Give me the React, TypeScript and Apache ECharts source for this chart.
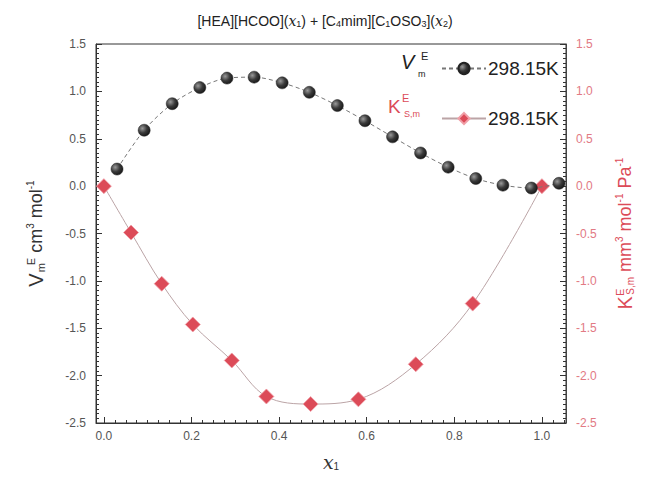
import React, { useEffect, useRef } from 'react';
import * as echarts from 'echarts';

// V_m^E data (cm3 mol-1) at 298.15 K
const vX = [0.030, 0.092, 0.156, 0.219, 0.281, 0.343, 0.407, 0.469, 0.533, 0.596, 0.659, 0.723, 0.786, 0.849, 0.911, 0.976, 1.039];
const vY = [0.18, 0.59, 0.87, 1.04, 1.14, 1.15, 1.09, 0.99, 0.85, 0.69, 0.52, 0.35, 0.20, 0.08, 0.01, -0.02, 0.03];
// K^E_S,m data (mm3 mol-1 Pa-1) at 298.15 K
const kX = [0.0, 0.062, 0.132, 0.203, 0.292, 0.371, 0.472, 0.581, 0.712, 0.842, 1.0];
const kY = [0.0, -0.49, -1.03, -1.46, -1.84, -2.22, -2.30, -2.25, -1.88, -1.24, 0.0];
const xTickLabels = [0, 0.2, 0.4, 0.6, 0.8, 1.0];
const xMinorTickValues = [0.025, 0.05, 0.075, 0.1, 0.125, 0.15, 0.175, 0.225, 0.25, 0.275, 0.3, 0.325, 0.35, 0.375, 0.425, 0.45, 0.475, 0.5, 0.525, 0.55, 0.575, 0.625, 0.65, 0.675, 0.7, 0.725, 0.75, 0.775, 0.825, 0.85, 0.875, 0.9, 0.925, 0.95, 0.975, 1.025, 1.05];
const legendLabel = '298.15K';

const X_MIN = -0.018;
const X_MAX = 1.055;

const FONT = '"Liberation Sans", Arial, sans-serif';
const RED = '#dc4b58';
const RED_LIGHT = '#e27a84';

export default function App() {
  const ref = useRef<HTMLDivElement>(null);
  useEffect(() => {
    if (!ref.current) return;
    const chart = echarts.init(ref.current, undefined, { renderer: 'svg' });
    const ball = new echarts.graphic.RadialGradient(0.35, 0.35, 0.75, [
      { offset: 0, color: '#9a9a9a' },
      { offset: 0.5, color: '#3a3a3a' },
      { offset: 1, color: '#111' },
    ]);
    const tickStyle = { color: '#333', width: 1 };
    const option: any = {
      animation: false,
      backgroundColor: '#fff',
      textStyle: { fontFamily: FONT },
      title: {
        text: '[HEA][HCOO]({i|x}{s|1}) + [C{s|4}mim][C{s|1}OSO{s|3}]({i|x}{s|2})',
        left: 'center',
        top: 8,
        textStyle: {
          fontFamily: FONT,
          fontSize: 14,
          fontWeight: 'normal',
          color: '#222',
          rich: {
            i: { fontFamily: '"DejaVu Serif", serif', fontStyle: 'italic', fontSize: 14, color: '#222' },
            s: { fontSize: 9, verticalAlign: 'bottom', color: '#222', padding: [6, 0, 0, 0] },
          },
        },
      },
      grid: { left: 96, right: 84, top: 44, bottom: 54, show: true, borderColor: '#333', borderWidth: 1 },
      legend: {
        orient: 'vertical',
        left: 436,
        top: 54,
        itemWidth: 44,
        itemHeight: 14,
        itemGap: 31,
        data: [{ name: 'V' }, { name: 'K' }],
        formatter: () => legendLabel,
        textStyle: { fontFamily: FONT, fontSize: 19, color: '#222', padding: [0, 0, 0, -3] },
      },
      xAxis: [
        {
          type: 'value',
          min: X_MIN,
          max: X_MAX,
          name: '{i|x}{s|1}',
          nameLocation: 'middle',
          nameGap: 29,
          nameTextStyle: {
            rich: {
              i: { fontFamily: '"DejaVu Serif", serif', fontStyle: 'italic', fontSize: 19, color: '#333' },
              s: { fontSize: 10, verticalAlign: 'bottom', padding: [8, 0, 0, 0], color: '#333' },
            },
          },
          axisLine: { show: true, onZero: false, lineStyle: { color: '#333', width: 1 } },
          axisTick: { show: true, inside: true, length: 6, customValues: xTickLabels, lineStyle: tickStyle },
          axisLabel: { show: true, customValues: xTickLabels, fontSize: 12, color: '#555', margin: 7, formatter: (v: number) => v.toFixed(1) },
          splitLine: { show: false },
        },
        {
          type: 'value',
          min: X_MIN,
          max: X_MAX,
          position: 'bottom',
          axisLine: { show: false, onZero: false },
          axisTick: { show: true, inside: true, length: 3, customValues: xMinorTickValues, lineStyle: tickStyle },
          axisLabel: { show: false },
          splitLine: { show: false },
        },
      ],
      yAxis: [
        {
          type: 'value',
          min: -2.5,
          max: 1.5,
          interval: 0.5,
          position: 'left',
          name: '{v|V}{m|m}{e|E}{t| cm}{p|3}{t| mol}{p|-1}',
          nameLocation: 'middle',
          nameGap: 50,
          nameRotate: 90,
          nameTextStyle: {
            color: '#333',
            rich: {
              v: { fontSize: 20, color: '#333', fontFamily: FONT },
              m: { fontSize: 11, color: '#333', verticalAlign: 'bottom', padding: [10, 0, 0, 1] },
              e: { fontSize: 11, color: '#333', verticalAlign: 'top', padding: [0, 0, 10, -2] },
              t: { fontSize: 18, color: '#333' },
              p: { fontSize: 10, color: '#333', verticalAlign: 'top', padding: [0, 0, 8, 0] },
            },
          },
          axisLine: { show: true, onZero: false, lineStyle: { color: '#333' } },
          axisTick: { show: true, inside: true, length: 6, lineStyle: tickStyle },
          minorTick: { show: true, splitNumber: 10, length: 3, lineStyle: tickStyle },
          axisLabel: { fontSize: 12, color: '#555', margin: 10, formatter: (v: number) => v.toFixed(1) },
          splitLine: { show: false },
          minorSplitLine: { show: false },
        },
        {
          type: 'value',
          min: -2.5,
          max: 1.5,
          interval: 0.5,
          position: 'right',
          name: '{k|K}{e|E}{m|S,m}{t| mm}{p|3}{t| mol}{p|-1}{t| Pa}{p|-1}',
          nameLocation: 'middle',
          nameGap: 48,
          nameRotate: 90,
          nameTextStyle: {
            color: RED,
            rich: {
              k: { fontSize: 20, color: RED },
              e: { fontSize: 11, color: RED, verticalAlign: 'top', padding: [0, 0, 10, 0] },
              m: { fontSize: 10, color: RED, verticalAlign: 'bottom', padding: [10, 0, 0, -6] },
              t: { fontSize: 18, color: RED },
              p: { fontSize: 10, color: RED, verticalAlign: 'top', padding: [0, 0, 8, 0] },
            },
          },
          axisLine: { show: true, onZero: false, lineStyle: { color: '#444' } },
          axisTick: { show: true, inside: true, length: 6, lineStyle: tickStyle },
          minorTick: { show: true, splitNumber: 10, length: 3, lineStyle: tickStyle },
          axisLabel: { fontSize: 12, color: RED_LIGHT, margin: 10, formatter: (v: number) => v.toFixed(1) },
          splitLine: { show: false },
          minorSplitLine: { show: false },
        },
      ],
      graphic: [
        { type: 'text', x: 401, y: 52, style: { text: 'V', font: 'italic 20px "Liberation Sans", Arial, sans-serif', fill: '#222' } },
        { type: 'text', x: 421, y: 50, style: { text: 'E', font: '11px "Liberation Sans", Arial, sans-serif', fill: '#222' } },
        { type: 'text', x: 418, y: 69, style: { text: 'm', font: '9px "Liberation Sans", Arial, sans-serif', fill: '#222' } },
        { type: 'text', x: 388, y: 97, style: { text: 'K', font: '19px "Liberation Sans", Arial, sans-serif', fill: RED } },
        { type: 'text', x: 402, y: 92, style: { text: 'E', font: '11px "Liberation Sans", Arial, sans-serif', fill: RED } },
        { type: 'text', x: 404, y: 109, style: { text: 'S,m', font: '9px "Liberation Sans", Arial, sans-serif', fill: RED } },
      ],
      series: [
        {
          name: 'V',
          type: 'line',
          xAxisIndex: 0,
          yAxisIndex: 0,
          data: vX.map((x, i) => [x, vY[i]]),
          smooth: 0.3,
          symbol: 'circle',
          symbolSize: 12,
          itemStyle: { color: ball, borderColor: '#222', borderWidth: 0.5 },
          lineStyle: { color: '#777', width: 1, type: [4, 3] },
          z: 3,
        },
        {
          name: 'K',
          type: 'line',
          xAxisIndex: 0,
          yAxisIndex: 1,
          data: kX.map((x, i) => [x, kY[i]]),
          smooth: 0.35,
          symbol: 'diamond',
          symbolSize: 15,
          itemStyle: { color: RED, borderColor: '#f0a0a8', borderWidth: 0.8 },
          lineStyle: { color: '#bba4a6', width: 1 },
          z: 2,
        },
      ],
    };
    chart.setOption(option);
    return () => chart.dispose();
  }, []);
  return <div ref={ref} style={{ width: 650, height: 477, position: 'absolute', left: 0, top: 0 }} />;
}
